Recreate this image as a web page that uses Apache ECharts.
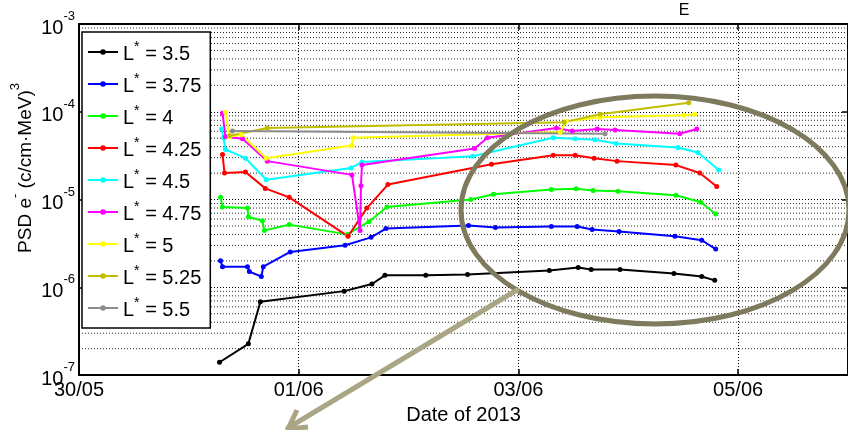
<!DOCTYPE html>
<html><head><meta charset="utf-8">
<script src="https://cdn.jsdelivr.net/npm/echarts@6/dist/echarts.min.js"></script>
<style>html,body{margin:0;padding:0;background:#fff}#c{width:848px;height:430px}</style>
</head><body><div id="c"></div>
<script>
// ---------- data ----------
const seriesNames = ['L* = 3.5','L* = 3.75','L* = 4','L* = 4.25','L* = 4.5','L* = 4.75','L* = 5','L* = 5.25','L* = 5.5'];
const seriesColors = ['#000000','#0000ff','#00ff00','#ff0000','#00ffff','#ff00ff','#ffff00','#bfbf00','#8c8c8c'];

const t35 = ['2013-05-31 06:42','2013-05-31 13:00','2013-05-31 15:37','2013-06-01 09:55','2013-06-01 16:00','2013-06-01 18:50','2013-06-02 03:45','2013-06-02 12:53','2013-06-03 06:45','2013-06-03 13:03','2013-06-03 15:53','2013-06-03 22:12','2013-06-04 09:58','2013-06-04 16:03','2013-06-04 18:53'];
const v35 = [1.40e-7,2.27e-7,6.83e-7,9.05e-7,1.09e-6,1.37e-6,1.37e-6,1.40e-6,1.55e-6,1.68e-6,1.60e-6,1.60e-6,1.44e-6,1.33e-6,1.20e-6];

const t375 = ['2013-05-31 06:55','2013-05-31 07:21','2013-05-31 12:48','2013-05-31 13:13','2013-05-31 15:50','2013-05-31 16:16','2013-05-31 22:09','2013-06-01 10:08','2013-06-01 15:48','2013-06-01 19:03','2013-06-02 13:06','2013-06-02 18:59','2013-06-03 07:11','2013-06-03 12:50','2013-06-03 16:06','2013-06-03 21:59','2013-06-04 10:11','2013-06-04 16:03','2013-06-04 19:06'];
const v375 = [2.01e-6,1.72e-6,1.72e-6,1.51e-6,1.33e-6,1.72e-6,2.53e-6,3.02e-6,3.71e-6,4.67e-6,5.05e-6,4.80e-6,4.92e-6,4.92e-6,4.56e-6,4.33e-6,3.81e-6,3.44e-6,2.73e-6];

const t4 = ['2013-05-31 06:55','2013-05-31 07:21','2013-05-31 12:48','2013-05-31 13:00','2013-05-31 16:03','2013-05-31 16:29','2013-05-31 21:56','2013-06-01 10:34','2013-06-01 15:20','2013-06-01 19:16','2013-06-02 13:34','2013-06-02 18:33','2013-06-03 07:11','2013-06-03 12:37','2013-06-03 16:19','2013-06-03 21:46','2013-06-04 10:24','2013-06-04 15:50','2013-06-04 19:06'];
const v4 = [1.06e-5,8.21e-6,8.0e-6,6.35e-6,5.74e-6,4.45e-6,5.18e-6,4.01e-6,5.60e-6,8.21e-6,1.0e-5,1.15e-5,1.30e-5,1.33e-5,1.27e-5,1.24e-5,1.12e-5,9.33e-6,6.86e-6];

const t425 = ['2013-05-31 07:21','2013-05-31 07:47','2013-05-31 12:22','2013-05-31 16:42','2013-05-31 21:56','2013-06-01 10:47','2013-06-01 14:54','2013-06-01 19:29','2013-06-02 18:07','2013-06-03 07:36','2013-06-03 12:24','2013-06-03 16:32','2013-06-03 21:33','2013-06-04 10:24','2013-06-04 15:37','2013-06-04 19:19'];
const v425 = [3.27e-5,2.01e-5,2.06e-5,1.34e-5,1.06e-5,3.81e-6,8.0e-6,1.48e-5,2.53e-5,3.19e-5,3.19e-5,2.95e-5,2.74e-5,2.47e-5,2.01e-5,1.41e-5];

const t45 = ['2013-05-31 07:08','2013-05-31 07:34','2013-05-31 08:00','2013-05-31 12:22','2013-05-31 16:55','2013-06-01 11:25','2013-06-01 13:49','2013-06-02 13:59','2013-06-03 07:36','2013-06-03 12:24','2013-06-03 16:45','2013-06-03 21:20','2013-06-04 10:49','2013-06-04 15:12','2013-06-04 19:45'];
const v45 = [6.37e-5,5.06e-5,3.72e-5,2.96e-5,1.68e-5,2.29e-5,2.67e-5,3.11e-5,5.06e-5,4.93e-5,4.81e-5,4.34e-5,3.92e-5,3.44e-5,2.17e-5];

const t475 = ['2013-05-31 07:21','2013-05-31 08:00','2013-05-31 11:43','2013-05-31 17:08','2013-06-01 11:38','2013-06-01 13:24','2013-06-01 13:36','2013-06-01 13:49','2013-06-02 14:25','2013-06-02 17:15','2013-06-03 08:17','2013-06-03 11:46','2013-06-03 17:12','2013-06-03 21:07','2013-06-04 11:15','2013-06-04 14:58'];
const v475 = [9.6e-5,5.19e-5,4.93e-5,2.74e-5,1.91e-5,4.44e-6,1.44e-5,2.47e-5,3.82e-5,5.06e-5,6.53e-5,6.05e-5,6.37e-5,6.2e-5,5.61e-5,6.37e-5];

const t5 = ['2013-05-31 08:00','2013-05-31 08:53','2013-05-31 11:28','2013-05-31 16:55','2013-06-01 11:38','2013-06-01 11:51','2013-06-03 09:09','2013-06-03 10:26','2013-06-03 17:51','2013-06-04 12:09','2013-06-04 14:31'];
const v5 = [9.85e-5,5.19e-5,5.46e-5,2.96e-5,4.13e-5,5.06e-5,5.9e-5,7.82e-5,8.66e-5,9.13e-5,9.35e-5];

const t525 = ['2013-05-31 08:53','2013-05-31 17:08','2013-06-03 10:00','2013-06-03 17:51','2013-06-04 13:13'];
const v525 = [5.33e-5,6.53e-5,7.62e-5,9.35e-5,1.27e-4];

const t55 = ['2013-05-31 09:32','2013-06-03 18:56'];
const v55 = [6.05e-5,5.61e-5];

const xMin = '2013-05-30 00:00';
const xMax = '2013-06-06 00:00';
const xTickDays = 2;
const yMin = 1e-7, yMax = 1e-3;
const minorMantissas = [2,3,4,5,6,7,8,9];
const minorDecades = [1e-7,1e-6,1e-5,1e-4];

// ---------- helpers ----------
function toUTC(s){
  const [d,t] = s.split(' ');
  const [Y,M,D] = d.split('-').map(Number);
  const [h,m] = t.split(':').map(Number);
  return Date.UTC(Y,M-1,D,h,m);
}
function pad(n){return (n<10?'0':'')+n;}
const DAY = 86400000;
const allT = [t35,t375,t4,t425,t45,t475,t5,t525,t55];
const allV = [v35,v375,v4,v425,v45,v475,v5,v525,v55];

const FONT = 'Liberation Sans, Arial, sans-serif';
const gridStyle = {color:'#000', width:1, type:[1,2]};

const minorVals = [];
minorDecades.forEach(d => minorMantissas.forEach(m => minorVals.push(m*d)));

const series = [];
// minor log grid lines (dotted), drawn through the axes
minorVals.forEach((v,k)=>{
  series.push({
    name:'__minor'+k, type:'line', z:1, silent:true, animation:false,
    data:[[toUTC(xMin), v],[toUTC(xMax), v]],
    symbol:'none', lineStyle:{color:'#000', width:1, type:[1,2], opacity:0.85},
    emphasis:{disabled:true}, tooltip:{show:false}
  });
});
seriesNames.forEach((n,i)=>{
  series.push({
    name:n, type:'line', z:3, xAxisIndex:0, yAxisIndex:0,
    data: allT[i].map((t,j)=>[toUTC(t), allV[i][j]]),
    symbol:'circle', symbolSize:5, showSymbol:true,
    lineStyle:{width:2, color:seriesColors[i]},
    itemStyle:{color:seriesColors[i]},
    animation:false
  });
});

const chart = echarts.init(document.getElementById('c'), null, {renderer:'canvas'});
const option = {
  backgroundColor:'#fff',
  animation:false,
  textStyle:{fontFamily:FONT},
  grid:{left:79, top:24, width:771, height:360, containLabel:false},
  legend:{
    data: seriesNames, orient:'vertical', left:82, top:32, z:10,
    backgroundColor:'#fff', borderColor:'#000', borderWidth:1.5,
    padding:[8,9,8,5], itemGap:8, itemWidth:30, itemHeight:7,
    selectedMode:false,
    formatter: n => '{a|L}{s|*}{a|' + n.slice(2) + '}',
    textStyle:{fontFamily:FONT, color:'#000',
      rich:{a:{fontSize:20, lineHeight:24, verticalAlign:'bottom', fontFamily:FONT, color:'#000'},
            s:{fontSize:14, lineHeight:12, verticalAlign:'top', fontFamily:FONT, color:'#000'}}}
  },
  xAxis:[{
    type:'value', min:toUTC(xMin), max:toUTC(xMax), interval:xTickDays*DAY,
    name:'Date of 2013', nameLocation:'middle', nameGap:27,
    nameTextStyle:{fontSize:20, color:'#000', fontFamily:FONT},
    axisLine:{lineStyle:{color:'#000', width:2}},
    axisTick:{inside:true, length:6, lineStyle:{color:'#000', width:1.5}},
    axisLabel:{fontSize:20, color:'#000', margin:5, fontFamily:FONT, showMaxLabel:false,
      formatter: v => { const d = new Date(v); return pad(d.getUTCDate())+'/'+pad(d.getUTCMonth()+1); }},
    splitLine:{show:true, lineStyle:gridStyle}
  },{
    type:'value', position:'top', min:toUTC(xMin), max:toUTC(xMax), interval:xTickDays*DAY,
    axisLine:{lineStyle:{color:'#000', width:2}},
    axisTick:{inside:true, length:6, lineStyle:{color:'#000', width:1.5}},
    axisLabel:{show:false}, splitLine:{show:false}
  }],
  yAxis:[{
    type:'log', logBase:10, min:yMin, max:yMax,
    axisLine:{lineStyle:{color:'#000', width:2}},
    axisTick:{inside:true, length:6, lineStyle:{color:'#000', width:1.5}},
    axisLabel:{margin:4, color:'#000', fontFamily:FONT,
      formatter: v => '{b|10}{s|' + Math.round(Math.log10(v)) + '}',
      rich:{b:{fontSize:20, lineHeight:28, verticalAlign:'bottom', fontFamily:FONT, color:'#000'},
            s:{fontSize:13, lineHeight:12, verticalAlign:'top', fontFamily:FONT, color:'#000'}}},
    splitLine:{show:true, lineStyle:gridStyle}
  },{
    type:'log', logBase:10, min:yMin, max:yMax, position:'right',
    axisLine:{lineStyle:{color:'#000', width:2}},
    axisTick:{inside:true, length:6, lineStyle:{color:'#000', width:1.5}},
    axisLabel:{show:false}, splitLine:{show:false}
  }],
  series: series,
  graphic:[
    {type:'text', x:22, y:168, rotation:Math.PI/2, z:10,
     style:{text:'{t|PSD e}{s|-}{t| (c/cm·MeV)}{s|3}', align:'center', verticalAlign:'middle',
       rich:{t:{fontSize:19, lineHeight:26, verticalAlign:'bottom', fontFamily:FONT, fill:'#000'},
             s:{fontSize:13, lineHeight:12, verticalAlign:'top', fontFamily:FONT, fill:'#000'}}}},
    {type:'text', x:684, y:11, z:10,
     style:{text:'E', fontSize:16, fontFamily:FONT, fill:'#000', align:'center', verticalAlign:'middle'}},
    {type:'ellipse', z:20, shape:{cx:655, cy:210, rx:194, ry:114},
     style:{fill:'none', stroke:'#7e7a5e', lineWidth:5}},
    {type:'line', z:20, shape:{x1:517, y1:290, x2:288, y2:428},
     style:{stroke:'#a9a585', lineWidth:5, lineCap:'round'}},
    {type:'polyline', z:20, shape:{points:[[308,427],[288,429],[297,410]]},
     style:{stroke:'#a9a585', lineWidth:5, fill:'none', lineJoin:'round'}}
  ]
};
chart.setOption(option);
</script>
</body></html>
